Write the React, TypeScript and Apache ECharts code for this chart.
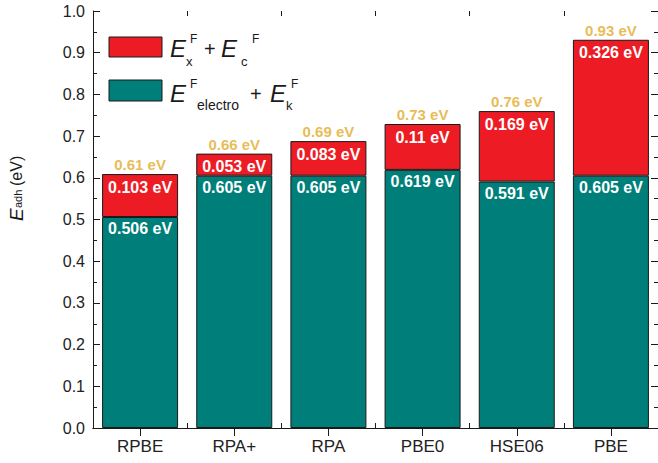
import React, { useEffect, useRef } from "react";
import * as echarts from "echarts";

const categories = ["RPBE", "RPA+", "RPA", "PBE0", "HSE06", "PBE"];
const electroK = [0.506, 0.605, 0.605, 0.619, 0.591, 0.605];
const xc = [0.103, 0.053, 0.083, 0.11, 0.169, 0.326];
const totalLabels = ["0.61", "0.66", "0.69", "0.73", "0.76", "0.93"];

const FONT = "Liberation Sans, Arial, sans-serif";
const TEAL = "#007F7A";
const RED = "#ED1C24";
const GOLD = "#E2AA28";
const INK = "#1a1a1a";

function txt(x: number, y: number, text: string, size: number, italic = false) {
  return {
    type: "text",
    x,
    y,
    silent: true,
    style: {
      text,
      fontSize: size,
      fontFamily: FONT,
      fontStyle: italic ? "italic" : "normal",
      fill: INK,
      verticalAlign: "middle",
      align: "left",
    },
  };
}

export default function App() {
  const ref = useRef<HTMLDivElement>(null);
  useEffect(() => {
    if (!ref.current) return;
    const chart = echarts.init(ref.current, undefined, { renderer: "svg" });
    const totalPos = electroK.map((v, i) => +(v + xc[i]).toFixed(3));
    const tickLine = { lineStyle: { color: INK, width: 1 } };
    const option: any = {
      animation: false,
      grid: { left: 93, right: -2, top: 11, bottom: 35, containLabel: false },
      xAxis: [
        {
          type: "category",
          position: "bottom",
          data: categories,
          boundaryGap: true,
          axisLine: { show: true, ...tickLine },
          axisTick: { show: true, inside: true, length: 5, ...tickLine },
          axisLabel: { fontSize: 17, color: "#222", fontFamily: FONT, margin: 10 },
        },
        {
          type: "category",
          position: "top",
          data: categories,
          boundaryGap: true,
          axisLine: { show: true, ...tickLine },
          axisTick: { show: true, inside: true, alignWithLabel: true, length: 8, ...tickLine },
          axisLabel: { show: false },
        },
        {
          type: "category",
          position: "top",
          data: categories,
          boundaryGap: true,
          axisLine: { show: false },
          axisTick: { show: true, inside: true, length: 5, ...tickLine },
          axisLabel: { show: false },
        },
      ],
      yAxis: [
        {
          type: "value",
          position: "left",
          min: 0,
          max: 1,
          interval: 0.1,
          splitLine: { show: false },
          axisLine: { show: true, ...tickLine },
          axisTick: { show: true, inside: true, length: 7, ...tickLine },
          minorTick: { show: true, splitNumber: 2, length: 4, ...tickLine },
          axisLabel: {
            fontSize: 16,
            color: "#222",
            fontFamily: FONT,
            margin: 8,
            formatter: (v: number) => v.toFixed(1),
          },
        },
        {
          type: "value",
          position: "right",
          min: 0,
          max: 1,
          interval: 0.1,
          splitLine: { show: false },
          axisLine: { show: true, ...tickLine },
          axisTick: { show: true, inside: true, length: 7, ...tickLine },
          minorTick: { show: true, splitNumber: 2, length: 4, ...tickLine },
          axisLabel: { show: false },
        },
      ],
      series: [
        {
          name: "electro",
          type: "bar",
          stack: "a",
          xAxisIndex: 0,
          yAxisIndex: 0,
          barWidth: 76,
          data: electroK,
          itemStyle: { color: TEAL, borderColor: INK, borderWidth: 1 },
          label: {
            show: true,
            position: "insideTop",
            distance: 4,
            color: "#fff",
            fontSize: 16,
            fontWeight: "bold",
            fontFamily: FONT,
            formatter: (p: any) => `${p.value} eV`,
          },
        },
        {
          name: "xc",
          type: "bar",
          stack: "a",
          xAxisIndex: 0,
          yAxisIndex: 0,
          barWidth: 76,
          data: xc,
          itemStyle: { color: RED, borderColor: INK, borderWidth: 1 },
          label: {
            show: true,
            position: "insideTop",
            distance: 5,
            color: "#fff",
            fontSize: 16,
            fontWeight: "bold",
            fontFamily: FONT,
            formatter: (p: any) => `${p.value} eV`,
          },
        },
        {
          name: "total",
          type: "scatter",
          xAxisIndex: 0,
          yAxisIndex: 0,
          symbolSize: 0,
          data: totalPos,
          label: {
            show: true,
            position: "top",
            distance: 2,
            color: GOLD,
            fontSize: 15,
            fontWeight: "bold",
            fontFamily: FONT,
            formatter: (p: any) => `${totalLabels[p.dataIndex]} eV`,
          },
        },
      ],
      graphic: [
        {
          type: "rect",
          shape: { x: 109, y: 37, width: 53, height: 20 },
          style: { fill: RED, stroke: INK, lineWidth: 1 },
        },
        {
          type: "rect",
          shape: { x: 109, y: 80, width: 53, height: 21 },
          style: { fill: TEAL, stroke: INK, lineWidth: 1 },
        },
        txt(170, 48.5, "E", 24, true),
        txt(190, 39, "F", 12),
        txt(186, 61, "x", 13),
        txt(204, 49, "+", 20),
        txt(221, 48.5, "E", 24, true),
        txt(252, 39, "F", 12),
        txt(241, 61, "c", 13),
        txt(170, 93.5, "E", 24, true),
        txt(190, 84, "F", 12),
        txt(197, 105, "electro", 14),
        txt(250, 94, "+", 20),
        txt(270, 93.5, "E", 24, true),
        txt(291, 84, "F", 12),
        txt(286, 105, "k", 13),
        {
          type: "group",
          x: 16,
          y: 221,
          rotation: Math.PI / 2,
          children: [
            txt(0, 0, "E", 19, true),
            txt(13, 2, "adh", 11),
            txt(35, 0, "(eV)", 16),
          ],
        },
      ],
    };
    chart.setOption(option);
    return () => chart.dispose();
  }, []);
  return (
    <div
      ref={ref}
      style={{ position: "fixed", left: 0, top: 0, width: 658, height: 463, background: "#fff" }}
    />
  );
}
